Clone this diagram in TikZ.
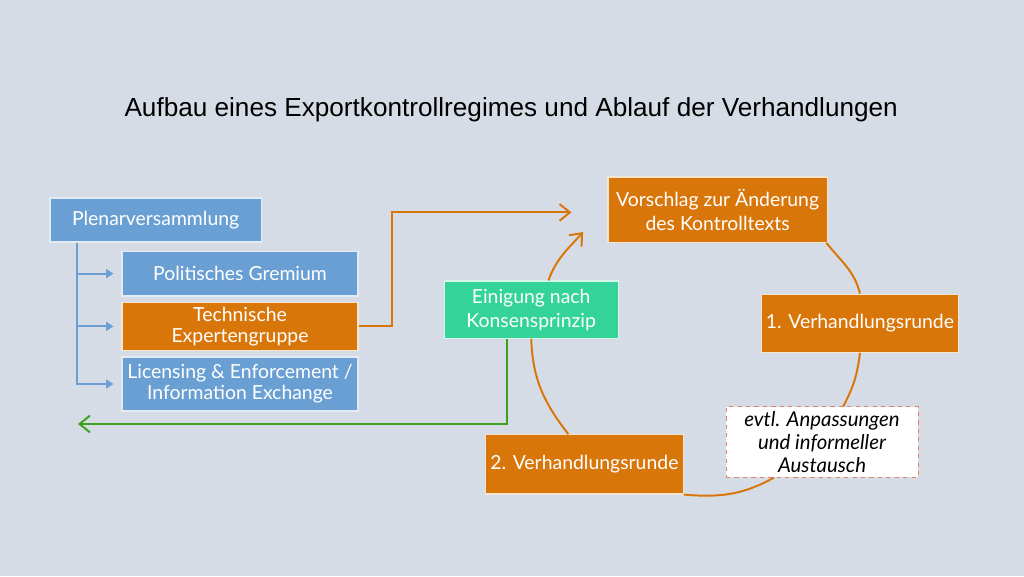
\documentclass[tikz,border=0pt]{standalone}
\usepackage{fontspec}
\setmainfont{Lato}
\newfontfamily\titlefont{Liberation Sans}
\usetikzlibrary{positioning,calc,arrows.meta}
\definecolor{bgc}{HTML}{D6DCE5}
\definecolor{boxblue}{HTML}{6A9FD3}
\definecolor{boxorange}{HTML}{D9760A}
\definecolor{boxgreen}{HTML}{34D399}
\definecolor{linegreen}{HTML}{3F9F1F}
\definecolor{notered}{HTML}{E0826A}

\begin{document}
\begin{tikzpicture}[
    gremium/.style={rectangle,draw=white!80!boxblue,line width=0.8pt,fill=boxblue,text=white,minimum width=5.9cm,minimum height=1.12cm,align=center,font=\fontsize{13.8}{15}\selectfont},
    runde/.style={rectangle,draw=white!80!boxorange,line width=0.8pt,fill=boxorange,text=white,minimum height=1.45cm,align=center,font=\fontsize{13.8}{17}\selectfont},
    hinweis/.style={rectangle,draw=notered,dashed,line width=0.6pt,fill=white,minimum width=4.8cm,minimum height=1.65cm,align=center,font=\itshape\fontsize{14.5}{16.3}\selectfont},
    branch/.style={-{Triangle[length=1.8mm,width=2.2mm]},draw=boxblue,line width=1.4pt,shorten >=0.2cm},
    flow/.style={-{Straight Barb[length=2.6mm,width=4.2mm]},draw=boxorange,line width=1.4pt},
    back/.style={-{Straight Barb[length=2.6mm,width=4.2mm]},draw=linegreen,line width=1.4pt}]

\fill[bgc] (0,0) rectangle (25.6,-14.4);
\useasboundingbox (0,0) rectangle (25.6,-14.4);

\node[font=\titlefont\fontsize{18.6}{22}\selectfont] (title) at (12.78,-2.75) {Aufbau eines Exportkontrollregimes und Ablauf der Verhandlungen};

% Gremien
\node[gremium,minimum width=5.28cm,minimum height=1.1cm] (plenar) at (3.89,-5.5) {Plenarversammlung};
\node[gremium] (polit) at (6.0,-6.84) {Politisches Gremium};
\node[gremium,fill=boxorange,draw=white!80!boxorange] (tech) at (6.0,-8.16) {Technische\\Expertengruppe};
\node[gremium,minimum height=1.35cm] (lic) at (6.0,-9.6) {Licensing \& Enforcement /\\Information Exchange};

% Verhandlungen
\node[runde,fill=boxgreen,draw=white!80!boxgreen,minimum width=4.35cm,minimum height=1.43cm] (einig) at (13.28,-7.74) {Einigung nach\\Konsensprinzip};
\node[runde,minimum width=5.48cm,minimum height=1.63cm] (vor) at (17.94,-5.24) {Vorschlag zur Änderung\\des Kontrolltexts};
\node[runde,minimum width=4.9cm] (r1) at (21.5,-8.08) {1. Verhandlungsrunde};
\node[runde,minimum width=4.88cm,minimum height=1.48cm] (r2) at (14.61,-11.61) {2. Verhandlungsrunde};
\node[hinweis] (note) at (20.55,-11.05) {evtl. Anpassungen\\und informeller\\Austausch};

\coordinate (trunk) at ($(plenar.south west)+(0.7,0)$);
\coordinate (tip) at (14.58,-5.8);
\coordinate (ende) at (1.95,-10.6);

\draw[branch] (trunk) |- (polit.west);
\draw[branch] (trunk) |- (tech.west);
\draw[branch] (trunk) |- (lic.west);

\draw[flow,shorten >=0.9cm] (tech.east) -- ++(0.83,0) |- ([yshift=-2pt]vor.west);

% Kreislauf
\draw[flow,-] ([xshift=-1pt]vor.south east) to[out=-52,in=104] (r1.north);
\draw[flow,-] (r1.south) to[out=-97,in=62] ([xshift=0.53cm]note.north);
\draw[flow,-] ([xshift=-1.2cm]note.south) to[out=-151,in=-5] (r2.south east);
\draw[flow,-] ([xshift=-0.4cm]r2.north) to[out=128,in=-88] (einig.south);
\draw[flow] ([xshift=0.43cm]einig.north) to[out=70,in=228] (tip);

\draw[back] ([xshift=-0.6cm]einig.south) |- (ende);

\end{tikzpicture}
\end{document}
